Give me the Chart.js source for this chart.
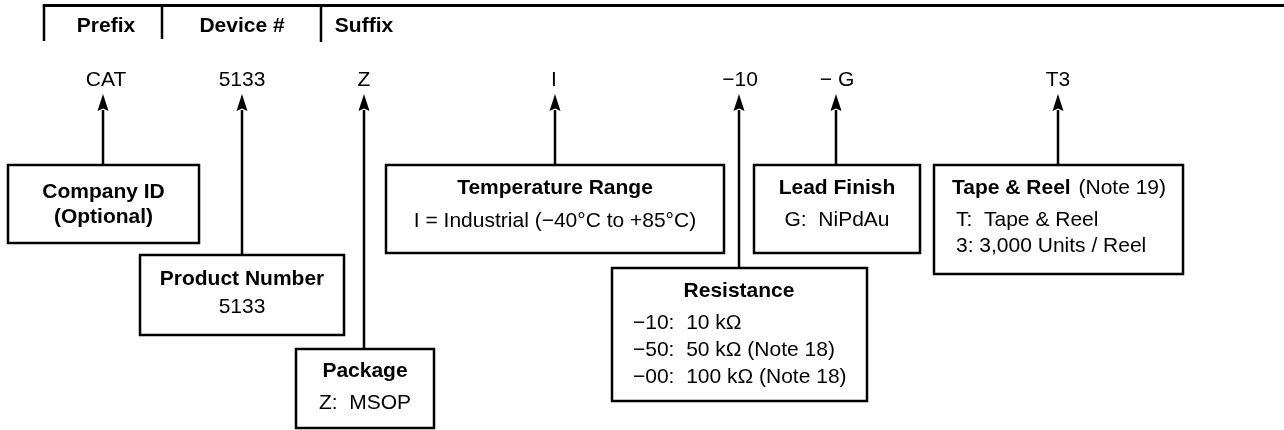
<!DOCTYPE html>
<html>
<head>
<meta charset="utf-8">
<script src="https://cdn.jsdelivr.net/npm/chart.js@4/dist/chart.umd.min.js"></script>
<style>
  html, body { margin: 0; padding: 0; background: #ffffff; }
  #wrap { position: relative; width: 1284px; height: 430px; }
</style>
</head>
<body>
<div id="wrap"><canvas id="c"></canvas></div>
<script>
// ---------- content (text values) ----------
const headerLabels = ['Prefix', 'Device #', 'Suffix'];
const partCodes = ['CAT', '5133', 'Z', 'I', '\u221210', '\u2212 G', 'T3'];
const boxTitles = [
  ['Company ID', '(Optional)'],
  ['Product Number'],
  ['Package'],
  ['Temperature Range'],
  ['Resistance'],
  ['Lead Finish'],
  ['Tape & Reel']
];
const boxTitleNotes = ['', '', '', '', '', '', '(Note 19)'];
const boxLines = [
  [],
  ['5133'],
  ['Z:  MSOP'],
  ['I = Industrial (\u221240\u00B0C to +85\u00B0C)'],
  ['\u221210:  10 k\u03A9', '\u221250:  50 k\u03A9 (Note 18)', '\u221200:  100 k\u03A9 (Note 18)'],
  ['G:  NiPdAu'],
  ['T:  Tape & Reel', '3: 3,000 Units / Reel']
];

// ---------- layout (positions in page units) ----------
const headerLineY = 5.5;
const headerLineX = [44, 1284];
const headerDividerX = [44, 162, 321];
const headerDividerBottom = [41, 39, 42];
const headerLabelX = [106, 242, 364];
const headerLabelY = 32;
const codeArrowX = [103, 242, 364, 555, 739, 836, 1058];
const codeTextX = [106, 242, 364, 554, 740, 837, 1058];
const codeTextY = 86;
const arrowTipY = 94;
const arrowBaseY = 111;
const arrowHalfW = 5.5;
// [left, top, right, bottom]
const boxRect = [
  [8, 165, 199, 243],
  [140, 255, 344, 335],
  [296, 349, 434, 428],
  [386, 165, 724, 253],
  [612, 268, 867, 401],
  [754, 165, 920, 253],
  [934, 165, 1183, 274]
];
const titleAlign = ['center', 'center', 'center', 'center', 'center', 'center', 'left'];
const lineAlign = ['center', 'center', 'center', 'center', 'left', 'center', 'left'];
const boxTextX = [103.5, 242, 365, 555, 739, 837, 952];
const boxLineX = [103.5, 242, 365, 555, 633, 837, 956];
const boxTitleY = [[198, 223], [285], [377], [194], [297], [194], [194]];
const boxLineY = [[], [313], [409], [227], [329, 356, 383], [226], [226, 252]];

const FONT_FAMILY = '"Liberation Sans", Arial, Helvetica, sans-serif';
const FONT_SIZE = 21;

// ---------- datasets built from layout ----------
const lineStyle = { showLine: true, pointRadius: 0, borderColor: '#000', borderWidth: 2.5,
  borderJoinStyle: 'miter', borderCapStyle: 'square', fill: false, tension: 0 };
const datasets = [];
datasets.push(Object.assign({}, lineStyle, { borderWidth: 3, borderCapStyle: 'butt',
  data: [{ x: headerLineX[0] - 1.25, y: headerLineY }, { x: headerLineX[1], y: headerLineY }] }));
headerDividerX.forEach((x, i) => {
  datasets.push(Object.assign({}, lineStyle, { borderCapStyle: 'butt', data: [{ x: x, y: headerLineY }, { x: x, y: headerDividerBottom[i] }] }));
});
codeArrowX.forEach((x, i) => {
  datasets.push(Object.assign({}, lineStyle, { borderCapStyle: 'butt', data: [{ x: x, y: arrowBaseY - 1 }, { x: x, y: boxRect[i][1] }] }));
});
boxRect.forEach(r => {
  const [l, t, rr, b] = r;
  datasets.push(Object.assign({}, lineStyle, { data: [{ x: l, y: t }, { x: rr, y: t }, { x: rr, y: b }, { x: l, y: b }, { x: l, y: t }] }));
});

// ---------- plugin: arrowheads and texts drawn through the scales ----------
const diagramText = {
  id: 'diagramText',
  afterDatasetsDraw(chart) {
    const ctx = chart.ctx;
    const xs = chart.scales.x, ys = chart.scales.y;
    const px = v => xs.getPixelForValue(v);
    const py = v => ys.getPixelForValue(v);
    ctx.save();
    ctx.fillStyle = '#000';
    // arrowheads
    codeArrowX.forEach(x => {
      ctx.beginPath();
      ctx.moveTo(px(x), py(arrowTipY));
      ctx.lineTo(px(x + arrowHalfW), py(arrowBaseY));
      ctx.lineTo(px(x), py(arrowBaseY - 2.5));
      ctx.lineTo(px(x - arrowHalfW), py(arrowBaseY));
      ctx.closePath();
      ctx.fill();
    });
    ctx.textBaseline = 'alphabetic';
    const bold = 'bold ' + FONT_SIZE + 'px ' + FONT_FAMILY;
    const reg = FONT_SIZE + 'px ' + FONT_FAMILY;
    // header labels
    ctx.font = bold;
    ctx.textAlign = 'center';
    headerLabels.forEach((t, i) => ctx.fillText(t, px(headerLabelX[i]), py(headerLabelY)));
    // codes
    ctx.font = reg;
    partCodes.forEach((t, i) => ctx.fillText(t, px(codeTextX[i]), py(codeTextY)));
    // boxes
    boxTitles.forEach((lines, i) => {
      lines.forEach((t, j) => {
        ctx.font = bold;
        ctx.textAlign = titleAlign[i];
        ctx.fillText(t, px(boxTextX[i]), py(boxTitleY[i][j]));
        if (j === 0 && boxTitleNotes[i]) {
          const w = ctx.measureText(t + ' ').width;
          ctx.font = reg;
          ctx.textAlign = 'left';
          ctx.fillText(boxTitleNotes[i], px(boxTextX[i]) + w + 2, py(boxTitleY[i][j]));
        }
      });
      ctx.font = reg;
      ctx.textAlign = lineAlign[i];
      boxLines[i].forEach((t, j) => ctx.fillText(t, px(boxLineX[i]), py(boxLineY[i][j])));
    });
    ctx.restore();
  }
};

new Chart(document.getElementById('c'), {
  type: 'scatter',
  data: { datasets: datasets },
  options: {
    responsive: true,
    maintainAspectRatio: false,
    animation: false,
    events: [],
    layout: { padding: 0 },
    plugins: { legend: { display: false }, tooltip: { enabled: false } },
    scales: {
      x: { type: 'linear', min: 0, max: 1284, display: false },
      y: { type: 'linear', min: 0, max: 430, reverse: true, display: false }
    }
  },
  plugins: [diagramText]
});
</script>
</body>
</html>
